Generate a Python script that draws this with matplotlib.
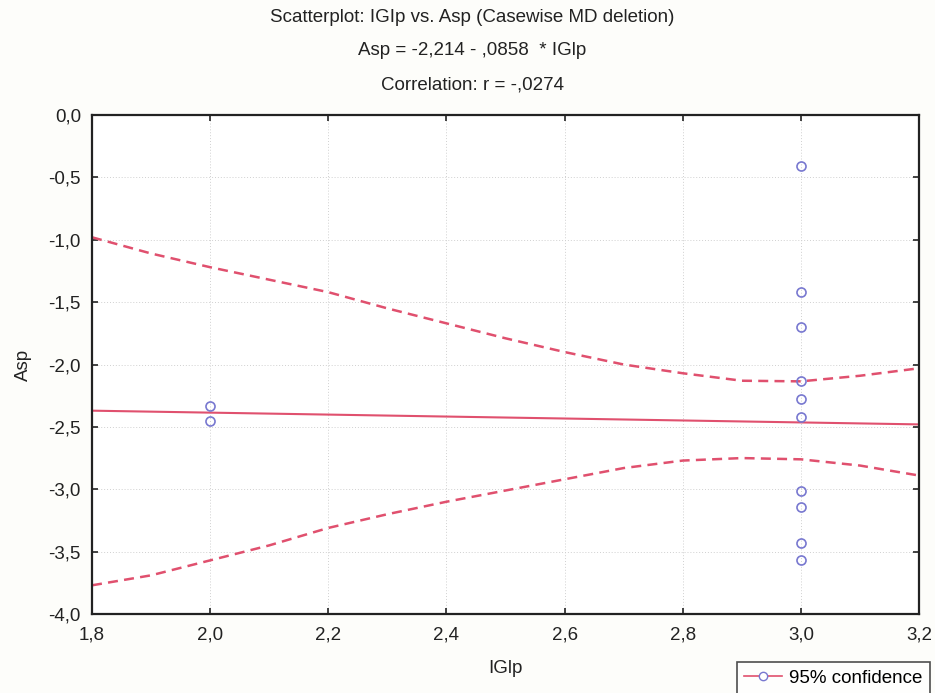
import matplotlib
matplotlib.use("Agg")
import matplotlib.pyplot as plt
from matplotlib.lines import Line2D
from matplotlib.ticker import FuncFormatter

plt.rcParams['font.family'] = ['Liberation Sans', 'DejaVu Sans']

# Data points (IGlp, Asp)
pts_x = [2.0, 2.0, 3.0, 3.0, 3.0, 3.0, 3.0, 3.0, 3.0, 3.0, 3.0, 3.0]
pts_y = [-2.33, -2.45, -0.41, -1.42, -1.70, -2.13, -2.28, -2.42, -3.01, -3.14, -3.43, -3.57]

# Regression line (read at axis ends)
fit_x = [1.8, 3.2]
fit_y = [-2.37, -2.48]

# 95% confidence bands
band_x = [1.8, 1.9, 2.0, 2.1, 2.2, 2.3, 2.4, 2.5, 2.6, 2.7, 2.8, 2.9, 3.0, 3.1, 3.2]
upper_y = [-0.98, -1.11, -1.22, -1.32, -1.42, -1.55, -1.67, -1.79, -1.90, -2.00,
           -2.07, -2.13, -2.135, -2.09, -2.03]
lower_y = [-3.77, -3.69, -3.57, -3.45, -3.31, -3.20, -3.10, -3.01, -2.92, -2.83,
           -2.77, -2.75, -2.76, -2.81, -2.89]

xticks = [1.8, 2.0, 2.2, 2.4, 2.6, 2.8, 3.0, 3.2]
yticks = [0.0, -0.5, -1.0, -1.5, -2.0, -2.5, -3.0, -3.5, -4.0]

red = '#e0506e'
blue = '#7878d0'
fs = 13.5

fig = plt.figure(figsize=(9.35, 6.93), dpi=100)
fig.patch.set_facecolor('#fdfdfa')
ax = fig.add_axes([0.0984, 0.114, 0.8846, 0.720])
ax.set_facecolor('white')

ax.plot(fit_x, fit_y, color=red, lw=1.5)
ax.plot(band_x, upper_y, color=red, lw=1.8, ls=(0, (4, 2.5)))
ax.plot(band_x, lower_y, color=red, lw=1.8, ls=(0, (4, 2.5)))
ax.plot(pts_x, pts_y, ls='none', marker='o', ms=6.5, mfc='none', mec=blue, mew=1.2)

ax.set_xlim(1.8, 3.2)
ax.set_ylim(-4.0, 0.0)
ax.set_xticks(xticks)
ax.set_yticks(yticks)
fmt = FuncFormatter(lambda v, p: f"{v:.1f}".replace('.', ','))
ax.xaxis.set_major_formatter(fmt)
ax.yaxis.set_major_formatter(fmt)
ax.tick_params(direction='in', length=4, width=1.2, labelsize=fs, colors='#222222',
               top=True, right=True)
ax.tick_params(axis='x', pad=9)
ax.tick_params(axis='y', pad=8)
ax.grid(True, color='#d0d0d0', lw=0.7, ls=(0, (1, 2)))
for s in ax.spines.values():
    s.set_linewidth(1.6)
    s.set_color('#222222')

ax.set_xlabel('IGlp', fontsize=fs, color='#222222', labelpad=12)
ax.set_ylabel('Asp', fontsize=fs, color='#222222', labelpad=12)

fig.text(0.505, 0.975, 'Scatterplot: IGIp vs. Asp (Casewise MD deletion)', ha='center',
         va='center', fontsize=fs, color='#222222')
fig.text(0.505, 0.927, 'Asp = -2,214 - ,0858  * IGlp', ha='center', va='center',
         fontsize=fs, color='#222222')
fig.text(0.505, 0.878, 'Correlation: r = -,0274', ha='center', va='center',
         fontsize=fs, color='#222222')

handle = Line2D([], [], color=red, lw=1.2, marker='o', ms=6, mfc='white', mec=blue)
leg = fig.legend([handle], ['95% confidence'], loc='lower right',
                 bbox_to_anchor=(1.005, -0.015), frameon=True, fancybox=False,
                 fontsize=fs, handlelength=2.0, borderpad=0.4, handletextpad=0.4)
leg.get_frame().set_edgecolor('#222222')
leg.get_frame().set_linewidth(1.2)

fig.savefig('out.png', dpi=100, facecolor=fig.get_facecolor())
